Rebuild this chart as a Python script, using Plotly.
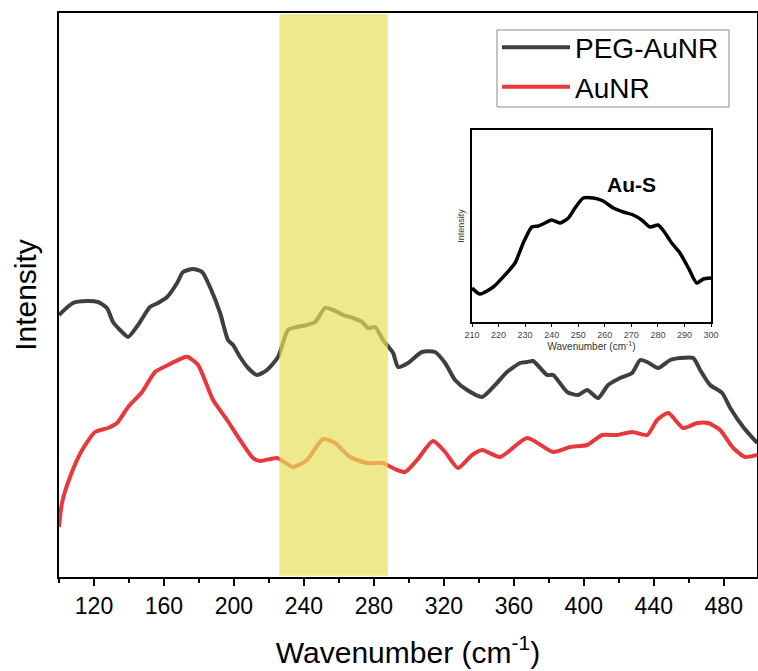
import plotly.graph_objects as go

# ---------------- data ----------------
peg_x = [100, 108.0, 116.0, 122.3, 127.4, 130.9, 134.9, 139.5, 145.2, 152.0, 156.6, 161.8, 167.5,
         170.9, 176.6, 181.8, 186.3, 192.1, 196.6, 199.5, 203.5, 208.1, 213.2, 218.9, 225.2, 230.9,
         236.1, 241.8, 246.4, 252.1, 256.7, 262.4, 268.1, 273.2, 276.7, 280.7, 285.2, 287.5, 291.0,
         293.8, 299.5, 307.5, 314.9, 320.7, 326.4, 333.3, 341.9, 349.3, 356.1, 363.6, 367.6, 371.0,
         379.0, 382.5, 390.5, 396.7, 401.9, 408.2, 413.9, 420.8, 427.6, 432.2, 436.2, 442.5, 449.4,
         455.1, 462.5, 466.5, 472.2, 479.1, 483.7, 491.1, 499.1]
peg_y = [262, 274, 276, 275, 269, 255, 247, 240, 252, 270, 274, 280, 294,
         305, 308, 305, 290, 264, 237, 232, 220, 209, 202, 207, 220, 247,
         250, 252, 255, 269, 267, 262, 259, 255, 249, 250, 237, 232, 224,
         210, 214, 225, 225, 214, 197, 187, 180, 192, 205, 214, 215, 216,
         202, 202, 185, 182, 187, 179, 192, 199, 204, 217, 215, 209, 217,
         219, 219, 207, 192, 184, 169, 150, 134]

aunr_x = [100, 101.7, 106.3, 113.2, 120.6, 128.0, 133.2, 139.5, 147.5, 154.9, 162.3, 172.0, 173.8,
          179.5, 188.1, 196.1, 203.5, 210.9, 214.9, 224.6, 233.8, 241.8, 250.9, 257.8, 266.4, 276.1,
          285.2, 287.5, 293.3, 297.8, 304.7, 313.8, 320.7, 328.1, 336.1, 341.9, 352.1, 367.6, 382.5,
          392.2, 401.9, 410.5, 419.0, 427.6, 436.2, 441.9, 448.3, 456.8, 464.8, 471.1, 477.9, 485.4,
          492.2, 499.1]
aunr_y = [50, 74, 100, 127, 145, 149, 154, 170, 185, 205, 212, 220, 220,
          212, 177, 157, 137, 119, 116, 119, 110, 117, 138, 134, 120, 114,
          114, 112, 107, 105, 117, 136, 125, 109, 122, 127, 120, 139, 125,
          130, 132, 142, 142, 145, 142, 157, 164, 149, 154, 154, 147, 129,
          120, 122]

inset_x = [210, 213.0, 218.0, 222.4, 226.2, 229.3, 232.5, 235.0, 237.5, 240.0, 243.1, 246.3, 248.8,
           251.9, 255.7, 259.4, 263.2, 267.0, 270.7, 273.9, 277.0, 280.1, 282.7, 285.2, 288.3, 291.5,
           294.6, 297.1, 300]
inset_y = [34, 28, 35, 47, 59, 79, 95, 96, 99, 102, 99, 104, 114,
           124, 124, 121, 114, 110, 107, 102, 95, 97, 89, 79, 69, 54,
           39, 43, 44]

main_ticks = [120, 160, 200, 240, 280, 320, 360, 400, 440, 480]
inset_ticks = [210, 220, 230, 240, 250, 260, 270, 280, 290, 300]
band_range = [226, 288]

# ---------------- figure ----------------
SANS = "Liberation Sans, Arial, sans-serif"

fig = go.Figure()
fig.add_trace(go.Scatter(x=peg_x, y=peg_y, mode="lines", name="PEG-AuNR",
                         line=dict(color="#3f3f3f", width=4, shape="spline", smoothing=0.6)))
fig.add_trace(go.Scatter(x=aunr_x, y=aunr_y, mode="lines", name="AuNR",
                         line=dict(color="#e8383c", width=4, shape="spline", smoothing=0.6)))
fig.add_trace(go.Scatter(x=inset_x, y=inset_y, mode="lines", showlegend=False,
                         xaxis="x2", yaxis="y2",
                         line=dict(color="black", width=3.5, shape="spline", smoothing=0.6)))

fig.add_shape(type="rect", xref="x", yref="y", x0=band_range[0], x1=band_range[1],
              y0=1.2, y1=562.8, fillcolor="rgb(231,224,91)", opacity=0.7,
              line=dict(width=0), layer="above")

# legend frame
fig.add_shape(type="rect", xref="paper", yref="paper", x0=0.6275, x1=0.9599,
              y0=0.8333, y1=0.9699, line=dict(color="#8a8a8a", width=1),
              fillcolor="rgba(0,0,0,0)", layer="below")

fig.add_annotation(x=270, y=137, xref="x2", yref="y2", text="<b>Au-S</b>", showarrow=False,
                   font=dict(family=SANS, size=21, color="black"))

fig.update_layout(
    width=758, height=671,
    margin=dict(l=59, r=1, t=13, b=94),
    paper_bgcolor="white", plot_bgcolor="white",
    showlegend=True,
    legend=dict(x=0.6275, y=0.983, xanchor="left", yanchor="top",
                bgcolor="rgba(0,0,0,0)", borderwidth=0,
                font=dict(family=SANS, size=28, color="black"),
                itemwidth=68, tracegroupgap=0),
    xaxis=dict(range=[100, 499], showline=True, mirror=True, linecolor="black", linewidth=2,
               showgrid=False, zeroline=False, ticks="outside", ticklen=7, tickwidth=2,
               tickcolor="black", tickvals=main_ticks, automargin=False,
               minor=dict(dtick=20, tick0=100, ticks="outside", ticklen=4, tickwidth=2,
                          tickcolor="black", showgrid=False),
               tickfont=dict(family=SANS, size=23, color="black"),
               title=dict(text="Wavenumber (cm<sup>-1</sup>)",
                          font=dict(family=SANS, size=30, color="black"), standoff=24)),
    yaxis=dict(range=[0, 564], showline=True, mirror=True, linecolor="black", linewidth=2,
               showgrid=False, zeroline=False, ticks="", showticklabels=False, automargin=False,
               title=dict(text="Intensity", font=dict(family=SANS, size=30, color="black"),
                          standoff=12)),
    xaxis2=dict(domain=[0.5917, 0.9341], anchor="y2", range=[210, 300], showline=True,
                mirror=True, linecolor="black", linewidth=2, showgrid=False, zeroline=False,
                ticks="outside", ticklen=3, tickwidth=1, tickcolor="black", tickvals=inset_ticks,
                automargin=False,
                tickfont=dict(family=SANS, size=9, color="#444444"),
                title=dict(text="Wavenumber (cm<sup>-1</sup>)",
                           font=dict(family=SANS, size=10, color="#333333"), standoff=4)),
    yaxis2=dict(domain=[0.4521, 0.7926], anchor="x2", range=[0, 192], showline=True,
                mirror=True, linecolor="black", linewidth=2, showgrid=False, zeroline=False,
                ticks="", showticklabels=False, automargin=False,
                title=dict(text="Intensity", font=dict(family=SANS, size=9, color="#333333"),
                           standoff=4)),
)

fig.write_html("out.html", config={"displayModeBar": False},
               post_script="document.body.style.margin='0';document.body.style.overflow='hidden';")
